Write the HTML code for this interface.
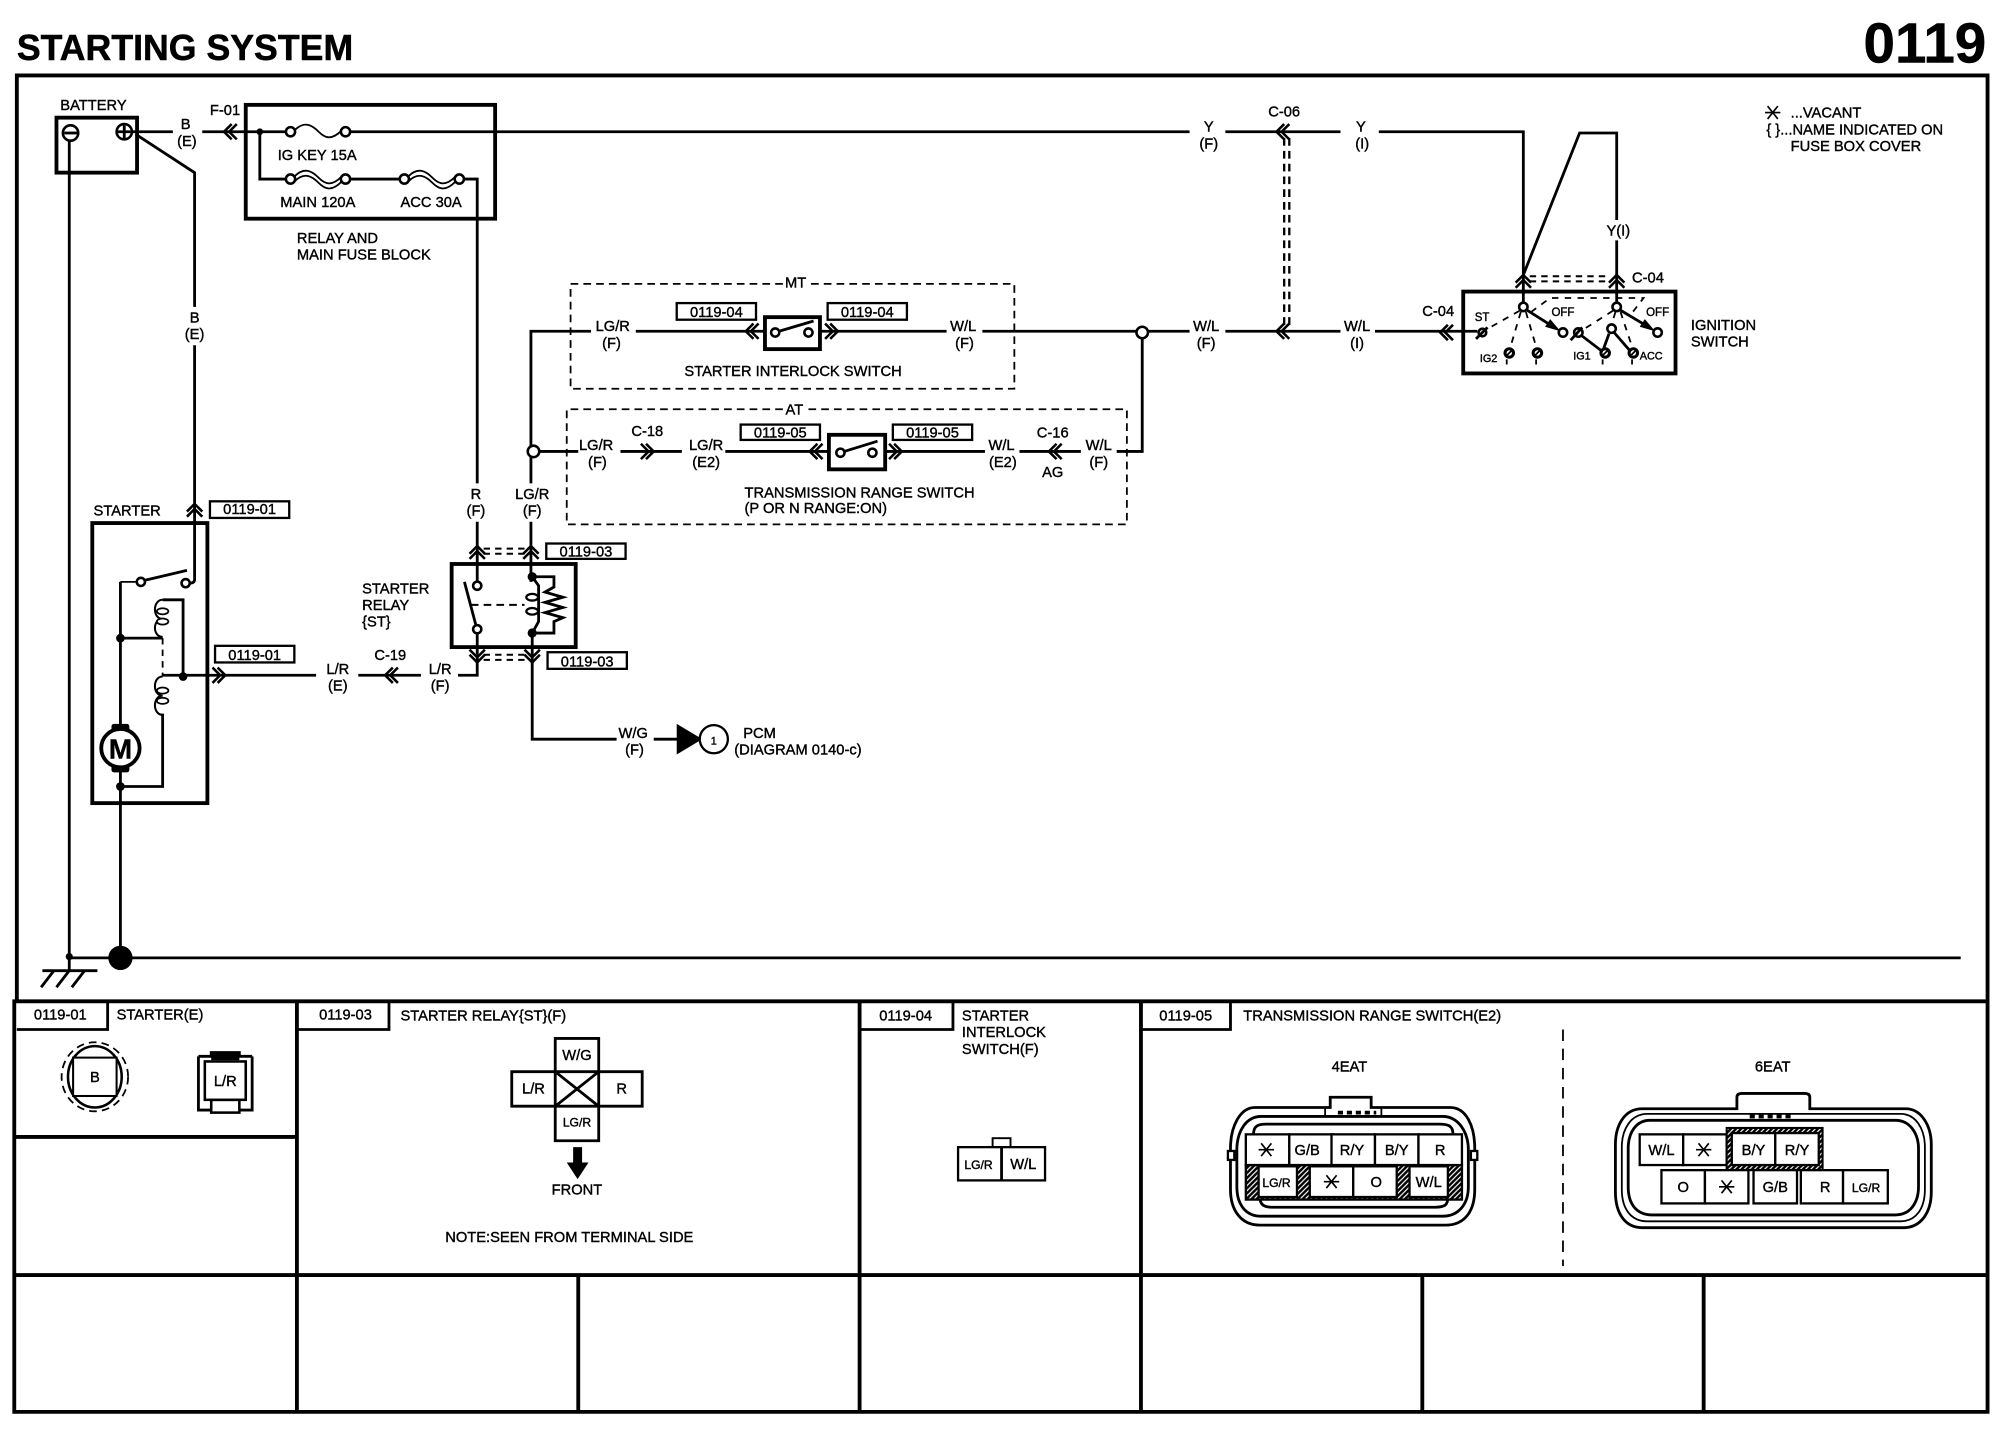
<!DOCTYPE html>
<html><head><meta charset="utf-8"><title>Starting System 0119</title>
<style>
html,body{margin:0;padding:0;background:#fff}
svg{display:block}
text{font-family:"Liberation Sans",Arial,sans-serif;font-size:11.5px;fill:#000;stroke:#000;stroke-width:.3}
.m text{text-anchor:middle}
.s{font-size:8.5px}
.w{fill:none;stroke:#000;stroke-width:2.2}
.th{fill:none;stroke:#000;stroke-width:3}
.tn{fill:none;stroke:#000;stroke-width:1.4}
.d{fill:none;stroke:#000;stroke-width:1.4;stroke-dasharray:6 4}
.dw{fill:none;stroke:#000;stroke-width:1.6;stroke-dasharray:5 4}
.c{fill:#fff;stroke:#000;stroke-width:2}
.b{fill:#fff;stroke:#000;stroke-width:1.8}
.cell{fill:#fff;stroke:#000;stroke-width:1.8}
</style></head><body>
<svg xmlns="http://www.w3.org/2000/svg" width="1998" height="1440" viewBox="0 0 1562 1126">
<defs>
<path id="cl" d="M3,-6 L-3,0 L3,6 M7,-6 L1,0 L7,6" fill="none" stroke="#000" stroke-width="2"/>
<path id="star" d="M-6,0H6 M-4,-5L4,5 M4,-5L-4,5" fill="none" stroke="#000" stroke-width="1.3"/>
<pattern id="h" width="4" height="4" patternUnits="userSpaceOnUse"><rect width="4" height="4" fill="#000"/><path d="M-1,3L3,-1M1,5L5,1" stroke="#fff" stroke-width=".9"/></pattern>
</defs>
<rect width="1562" height="1126" fill="#fff"/>

<text x="13" y="47" style="font-size:28px;font-weight:bold;stroke-width:.4" textLength="263" lengthAdjust="spacingAndGlyphs">STARTING SYSTEM</text>
<text x="1457" y="49" style="font-size:44px;font-weight:bold;stroke-width:.4" textLength="96" lengthAdjust="spacingAndGlyphs">0119</text>

<!-- frame -->
<path class="th" d="M13,783V59H1554V1104H11V783H1554"/>
<path class="th" d="M11,889H232M232,783V1104M672,783V1104M892,783V1104M11,997H1554M452,997V1104M1112,997V1104M1332,997V1104"/>

<!-- legend -->
<use href="#star" transform="translate(1386,88)"/>
<text x="1400" y="92">...VACANT</text>
<text x="1381" y="105">{ }...NAME INDICATED ON</text>
<text x="1400" y="118">FUSE BOX COVER</text>

<!-- battery -->
<text x="47" y="86">BATTERY</text>
<rect x="44" y="92" width="63" height="43" class="th" fill="none"/>
<circle cx="55" cy="104" r="6" class="c"/><path class="w" d="M50,104H60"/>
<circle cx="97" cy="103" r="6" class="c"/><path class="w" d="M92,103H102M97,98V108"/>
<path class="w" d="M54,110V748"/>
<path class="w" d="M103,103H135M106,105L152,135V240M152,270V453Q152,456 148,456"/>
<g class="m"><text x="145" y="101">B</text><text x="146" y="114">(E)</text><text x="152" y="252">B</text><text x="152" y="265">(E)</text></g>
<text x="164" y="90">F-01</text>
<path class="w" d="M158,103H192"/><use href="#cl" x="178" y="103"/>

<!-- fuse block -->
<rect x="192" y="82" width="195" height="89" class="th" fill="none"/>
<circle cx="203" cy="103" r="2.6"/>
<path class="w" d="M192,103H224M273,103H930M203,103V140H224M273,140H312M362,140H373V378M373,408V455"/>
<circle cx="227" cy="103" r="3.6" class="c"/><circle cx="270" cy="103" r="3.6" class="c"/>
<path class="tn" d="M230,102C238,94 244,98 249,103S259,110 267,102"/>
<circle cx="227" cy="140" r="3.6" class="c"/><circle cx="270" cy="140" r="3.6" class="c"/>
<path class="tn" d="M230,138C238,130 244,134 249,139S259,146 267,138M230,142C238,134 244,138 249,143S259,150 267,142"/>
<circle cx="316" cy="140" r="3.6" class="c"/><circle cx="359" cy="140" r="3.6" class="c"/>
<path class="tn" d="M319,138C327,130 333,134 338,139S348,146 356,138M319,142C327,134 333,138 338,143S348,150 356,142"/>
<text x="217" y="125">IG KEY 15A</text>
<text x="219" y="162">MAIN 120A</text>
<text x="313" y="162">ACC 30A</text>
<text x="232" y="190">RELAY AND</text>
<text x="232" y="203">MAIN FUSE BLOCK</text>

<!-- top wires -->
<g class="m"><text x="945" y="103">Y</text><text x="945" y="116">(F)</text>
<text x="1064" y="103">Y</text><text x="1065" y="116">(I)</text>
<text x="1004" y="91">C-06</text></g>
<path class="w" d="M958,103H1048M1078,103H1191V238M1191,215L1235,104H1264V172M1264,188V240"/>
<use href="#cl" x="1001" y="103"/>
<use href="#cl" x="1001" y="259"/>
<path class="dw" d="M1004,108V254M1008,108V254" style="stroke-width:1.8;stroke-dasharray:6 4"/>
<text x="1256" y="184">Y(I)</text>

<!-- MT -->
<path class="d" d="M612,222H446V304H793V222H634"/>
<text x="622" y="225" text-anchor="middle">MT</text>
<path class="w" d="M415,353V259H462M497,259H598M641,259H740M768,259H930M958,259H1048M1075,259H1155"/>
<g class="m"><text x="479" y="259">LG/R</text><text x="478" y="272">(F)</text>
<text x="753" y="259">W/L</text><text x="754" y="272">(F)</text>
<text x="943" y="259">W/L</text><text x="943" y="272">(F)</text>
<text x="1061" y="259">W/L</text><text x="1061" y="272">(I)</text></g>
<rect x="529" y="237" width="62" height="13" class="b"/><text x="560" y="248" text-anchor="middle">0119-04</text>
<rect x="647" y="237" width="62" height="13" class="b"/><text x="678" y="248" text-anchor="middle">0119-04</text>
<use href="#cl" x="586" y="259"/><use href="#cl" transform="translate(652,259) rotate(180)"/>
<rect x="598" y="248" width="43" height="25" fill="#fff" stroke="#000" stroke-width="3"/>
<circle cx="606" cy="260" r="3.2" class="c"/><circle cx="632" cy="260" r="3.2" class="c"/><path class="w" d="M609,259L636,251"/>
<text x="535" y="294">STARTER INTERLOCK SWITCH</text>
<circle cx="893" cy="260" r="4.5" class="c"/>
<path class="w" d="M893,264V353H873"/>

<!-- AT -->
<path class="d" d="M612,320H443V410H881V320H630"/>
<text x="621" y="324" text-anchor="middle">AT</text>
<circle cx="417" cy="353" r="4.5" class="c"/>
<path class="w" d="M421,353H452M485,353H533M567,353H648M692,353H770M797,353H845"/>
<path class="w" d="M415,357V378M415,408V455"/>
<use href="#cl" transform="translate(508,353) rotate(180)"/>
<use href="#cl" x="823" y="353"/>
<use href="#cl" x="636" y="353"/><use href="#cl" transform="translate(702,353) rotate(180)"/>
<g class="m"><text x="466" y="352">LG/R</text><text x="467" y="365">(F)</text>
<text x="552" y="352">LG/R</text><text x="552" y="365">(E2)</text>
<text x="783" y="352">W/L</text><text x="784" y="365">(E2)</text>
<text x="859" y="352">W/L</text><text x="859" y="365">(F)</text>
<text x="506" y="341">C-18</text><text x="823" y="342">C-16</text><text x="823" y="373">AG</text></g>
<rect x="579" y="332" width="62" height="12" class="b"/><text x="610" y="342" text-anchor="middle">0119-05</text>
<rect x="698" y="332" width="62" height="12" class="b"/><text x="729" y="342" text-anchor="middle">0119-05</text>
<rect x="648" y="340" width="44" height="27" fill="#fff" stroke="#000" stroke-width="3"/>
<circle cx="657" cy="354" r="3.2" class="c"/><circle cx="682" cy="354" r="3.2" class="c"/><path class="w" d="M660,353L686,345"/>
<text x="582" y="389">TRANSMISSION RANGE SWITCH</text>
<text x="582" y="401">(P OR N RANGE:ON)</text>

<!-- ignition -->
<rect x="1144" y="228" width="166" height="64" class="th" fill="none"/>
<use href="#cl" transform="translate(1191,218) rotate(90)"/>
<use href="#cl" transform="translate(1264,218) rotate(90)"/>
<path class="dw" d="M1196,216H1258M1196,220H1258"/>
<text x="1276" y="221">C-04</text>
<text x="1112" y="247">C-04</text>
<use href="#cl" x="1129" y="260"/>
<text class="s" x="1153" y="251" style="font-size:9px">ST</text>
<path class="d" d="M1188,243L1165,256M1189,244L1181,271M1193,244L1201,271M1197,244L1212,233H1285L1275,246M1261,243L1239,257M1263,244L1260,254M1267,244L1276,271" style="stroke-dasharray:5 5"/>
<path class="d" d="M1178,281V287M1201,281V287M1253,281V287M1276,281V287" style="stroke-dasharray:4 3"/>
<circle cx="1159" cy="260" r="3" class="c"/><path class="w" d="M1154,265L1163,256"/>
<circle cx="1191" cy="240" r="3.3" class="c"/><circle cx="1264" cy="240" r="3.3" class="c"/>
<path class="w" d="M1193,242L1212,254"/><path d="M1220,259L1208,255.500L1212,249.500Z"/>
<path class="w" d="M1266,242L1286,254"/><path d="M1294,259L1282,255.500L1286,249.500Z"/>
<circle cx="1222" cy="260" r="3.3" class="c"/><circle cx="1296" cy="260" r="3.3" class="c"/>
<circle cx="1234" cy="260" r="3.3" class="c"/><path class="w" d="M1236,262L1253,275"/><path class="w" d="M1228,266L1237,256"/>
<circle cx="1260" cy="257" r="3.3" class="c"/><path class="w" d="M1262,260L1275,275"/>
<path class="w" d="M1258,261L1254,272"/>
<circle cx="1255" cy="276" r="3.300" class="c" style="stroke-width:2.4"/><circle cx="1277" cy="276" r="3.3" class="c" style="stroke-width:2.4"/>
<circle cx="1180" cy="276" r="3.3" class="c" style="stroke-width:2.4"/><circle cx="1202" cy="276" r="3.3" class="c" style="stroke-width:2.4"/>
<path class="tn" d="M1178,278L1182,274M1200,278L1204,274M1253,278L1257,274M1275,278L1279,274"/>
<text class="s" x="1213" y="247" style="font-size:9px">OFF</text><text class="s" x="1287" y="247" style="font-size:9px">OFF</text>
<text class="s" x="1157" y="283">IG2</text><text class="s" x="1230" y="281">IG1</text><text class="s" x="1282" y="281">ACC</text>
<text x="1322" y="258">IGNITION</text><text x="1322" y="271">SWITCH</text>

<!-- starter -->
<text x="73" y="403">STARTER</text>
<use href="#cl" transform="translate(152,397) rotate(90)"/>
<rect x="164" y="392" width="62" height="13" class="b"/><text x="195" y="402" text-anchor="middle">0119-01</text>
<rect x="72" y="409" width="90" height="219" class="th" fill="none"/>
<path class="tn" d="M94,455H107"/>
<circle cx="110" cy="455" r="3.2" class="c"/><circle cx="145" cy="456" r="3.2" class="c"/>
<path class="w" d="M112,454L146,446"/>
<path class="w" d="M94,455V570M94,499H127M127,469H143V529M94,600V748M127,558V615H94"/>
<path class="w" style="stroke-width:1.6" d="M127,469C119,469 119,484 127,484C119,484 119,498 127,498"/>
<path class="w" style="stroke-width:1.6" d="M127,529C119,529 119,544 127,544C119,544 119,559 127,559"/>
<ellipse cx="127" cy="478" rx="4.5" ry="2.4" class="tn" fill="#fff" style="fill:#fff"/><ellipse cx="127" cy="486" rx="4.5" ry="2.4" class="tn" style="fill:#fff"/>
<ellipse cx="127" cy="540" rx="4.5" ry="2.4" class="tn" style="fill:#fff"/><ellipse cx="127" cy="548" rx="4.5" ry="2.4" class="tn" style="fill:#fff"/>
<path class="tn" d="M127,499V529" stroke-dasharray="5 4"/>
<circle cx="94" cy="499" r="3.4"/><circle cx="143" cy="529" r="3.4"/><circle cx="94" cy="615" r="3.4"/>
<rect x="87" y="566" width="14" height="6" rx="2"/><rect x="87" y="598" width="14" height="6" rx="2"/>
<circle cx="94" cy="585" r="15" fill="#fff" stroke="#000" stroke-width="3"/>
<text x="94" y="593" text-anchor="middle" style="font-size:22px;font-weight:bold">M</text>
<path class="w" d="M127,528H247M280,528H329M358,528H373V512"/>
<use href="#cl" transform="translate(173,528) rotate(180)"/>
<use href="#cl" x="304" y="528"/>
<rect x="168" y="505" width="62" height="13" class="b"/><text x="199" y="516" text-anchor="middle">0119-01</text>
<g class="m"><text x="264" y="527">L/R</text><text x="264" y="540">(E)</text><text x="305" y="516">C-19</text>
<text x="344" y="527">L/R</text><text x="344" y="540">(F)</text>
<text x="372" y="390">R</text><text x="372" y="403">(F)</text><text x="416" y="390">LG/R</text><text x="416" y="403">(F)</text></g>

<!-- relay -->
<text x="283" y="464">STARTER</text><text x="283" y="477">RELAY</text><text x="283" y="490">{ST}</text>
<rect x="353" y="441" width="97" height="65" class="th" fill="none"/>
<use href="#cl" transform="translate(373,430) rotate(90)"/>
<use href="#cl" transform="translate(415,430) rotate(90)"/>
<path class="dw" d="M378,429H411M378,433H411"/>
<rect x="427" y="425" width="62" height="12" class="b"/><text x="458" y="435" text-anchor="middle">0119-03</text>
<use href="#cl" transform="translate(373,515) rotate(-90)"/>
<use href="#cl" transform="translate(416,515) rotate(-90)"/>
<path class="dw" d="M378,512H411M378,516H411"/>
<rect x="428" y="510" width="62" height="13" class="b"/><text x="459" y="521" text-anchor="middle">0119-03</text>
<circle cx="373" cy="458" r="3.2" class="c"/><circle cx="373" cy="492" r="3.2" class="c"/>
<path class="w" d="M372,489L363,455"/>
<path class="w" d="M373,495V512"/>
<path class="w" style="stroke-width:1.6;stroke-dasharray:6 4" d="M368,473H410"/>
<circle cx="416" cy="451" r="3.6"/><circle cx="416" cy="495" r="3.6"/>
<path class="w" d="M416,451L421,458V486L416,495"/>
<ellipse cx="416" cy="467" rx="4.6" ry="2.6" class="tn" style="fill:#fff;stroke-width:1.8"/><ellipse cx="416" cy="478" rx="4.6" ry="2.6" class="tn" style="fill:#fff;stroke-width:1.8"/>
<path class="w" d="M416,451H433V459L426,463L440,467L426,471L440,475L426,479L440,483L433,486V495H416"/>
<path class="w" d="M416,495V578H482M511,578H530"/>
<g class="m"><text x="495" y="577">W/G</text><text x="496" y="590">(F)</text></g>
<path d="M529,566V590L549,578Z"/>
<circle cx="558" cy="578" r="11" fill="#fff" stroke="#000" stroke-width="1.8"/>
<text x="558" y="582" text-anchor="middle" class="s">1</text>
<text x="581" y="577">PCM</text><text x="574" y="590">(DIAGRAM 0140-c)</text>

<!-- ground -->
<circle cx="54" cy="748" r="2.8"/><circle cx="94" cy="749" r="9.5"/>
<path class="w" d="M54,749H1533M54,748V759M33,759H76M42,759L32,772M54,759L44,772M66,759L56,772"/>

<!-- panel 1 -->
<path class="w" d="M13,805H84V783"/>
<text x="47" y="797" text-anchor="middle">0119-01</text>
<text x="91" y="797">STARTER(E)</text>
<ellipse cx="74" cy="842" rx="26" ry="27" class="d"/>
<ellipse cx="74" cy="842" rx="21" ry="24" fill="none" stroke="#000" stroke-width="2"/>
<rect x="57" y="827" width="34" height="30" fill="#fff" stroke="#000" stroke-width="1.6"/>
<text x="74" y="846" text-anchor="middle">B</text>
<path class="w" d="M155,826V868H197V826M155,826H165V823H187V826H197"/>
<rect x="165" y="823" width="22" height="6" fill="#000"/><rect x="165" y="860" width="22" height="10" fill="#fff" stroke="#000" stroke-width="2"/>
<rect x="160" y="830" width="32" height="30" fill="#fff" stroke="#000" stroke-width="2"/>
<text x="176" y="849" text-anchor="middle">L/R</text>

<!-- panel 2 -->
<path class="w" d="M232,805H304V783"/>
<text x="270" y="797" text-anchor="middle">0119-03</text>
<text x="313" y="798">STARTER RELAY{ST}(F)</text>
<path class="w" d="M434,838V812H468V838M400,838H502V865H400ZM434,865V892H468V865M434,838H468V865H434ZM434,838L468,865M468,838L434,865"/>
<g class="m"><text x="451" y="829">W/G</text><text x="417" y="855">L/R</text><text x="486" y="855">R</text><text class="s" x="451" y="881" style="font-size:9.5px">LG/R</text></g>
<path d="M448,897H455V909H460L451.500,922L443,909H448Z"/>
<text x="451" y="934" text-anchor="middle">FRONT</text>
<text x="445" y="971" text-anchor="middle">NOTE:SEEN FROM TERMINAL SIDE</text>

<!-- panel 3 -->
<path class="w" d="M672,805H745V783"/>
<text x="708" y="798" text-anchor="middle">0119-04</text>
<text x="752" y="798">STARTER</text><text x="752" y="811">INTERLOCK</text><text x="752" y="824">SWITCH(F)</text>
<rect x="776" y="890" width="14" height="7" fill="none" stroke="#000" stroke-width="1.5"/>
<rect x="749" y="897" width="68" height="26" class="cell"/><path class="w" d="M783,897V923"/>
<text x="765" y="914" text-anchor="middle" style="font-size:9.5px">LG/R</text><text x="800" y="914" text-anchor="middle">W/L</text>

<!-- panel 4 -->
<path class="w" d="M892,805H962V783"/>
<text x="927" y="798" text-anchor="middle">0119-05</text>
<text x="972" y="798">TRANSMISSION RANGE SWITCH(E2)</text>
<path class="tn" d="M1222,805V990" stroke-dasharray="9 6"/>
<text x="1055" y="838" text-anchor="middle">4EAT</text><text x="1386" y="838" text-anchor="middle">6EAT</text>

<!-- 4EAT -->
<path class="w" d="M981,866H1040V858H1072V866H1134C1146,866 1153,880 1153,898V930C1153,946 1146,958 1130,958H985C970,958 962,946 962,930V898C962,880 970,866 981,866Z"/>
<path class="w" d="M986,873H1128C1140,873 1148,885 1148,899V928C1148,942 1140,951 1128,951H986C974,951 967,942 967,928V899C967,885 974,873 986,873Z"/>
<path class="tn" d="M1036,873V866M1080,873V866"/>
<path class="th" d="M1046,870H1076" style="stroke-dasharray:4 3"/>
<path class="w" d="M980,887C980,880 984,879 990,879H1125C1132,879 1136,880 1136,887M985,936C985,942 988,944 995,944H1122C1130,944 1132,942 1132,936"/>
<rect x="960" y="900" width="5" height="7" class="b"/><rect x="1150" y="900" width="5" height="7" class="b"/>
<rect x="974" y="911" width="169" height="27" fill="url(#h)" stroke="#000" stroke-width="1.8"/>
<rect x="974" y="887" width="34" height="24" class="cell"/><rect x="1008" y="887" width="34" height="24" class="cell"/><rect x="1041" y="887" width="34" height="24" class="cell"/><rect x="1075" y="887" width="34" height="24" class="cell"/><rect x="1109" y="887" width="34" height="24" class="cell"/>
<rect x="984" y="912" width="30" height="24" class="cell"/><rect x="1024" y="912" width="34" height="24" class="cell"/><rect x="1058" y="912" width="34" height="24" class="cell"/><rect x="1102" y="912" width="30" height="24" class="cell"/>
<use href="#star" transform="translate(990,899)"/>
<g class="m"><text x="1022" y="903">G/B</text><text x="1057" y="903">R/Y</text><text x="1092" y="903">B/Y</text><text x="1126" y="903">R</text>
<text x="998" y="928" style="font-size:9.500px">LG/R</text><text x="1076" y="928">O</text><text x="1117" y="928">W/L</text></g>
<use href="#star" transform="translate(1041,924)"/>

<!-- 6EAT -->
<path class="w" d="M1284,867H1358V858Q1358,855 1362,855H1411Q1415,855 1415,858V867H1490C1502,867 1510,880 1510,895V932C1510,948 1502,960 1488,960H1284C1270,960 1263,948 1263,932V895C1263,880 1270,867 1284,867Z"/>
<path class="tn" d="M1288,871H1486C1498,871 1505,883 1505,897V930C1505,945 1498,955 1486,955H1288C1275,955 1268,945 1268,930V897C1268,883 1275,871 1288,871Z"/>
<path class="w" d="M1290,876H1482C1493,876 1500,886 1500,898V928C1500,941 1493,950 1482,950H1292C1279,950 1273,941 1273,928V898C1273,886 1279,876 1290,876Z"/>
<path class="th" d="M1368,873H1402" style="stroke-dasharray:4 3"/>
<rect x="1282" y="887" width="34" height="24" class="cell"/><rect x="1316" y="887" width="34" height="24" class="cell"/>
<rect x="1350" y="882" width="75" height="33" fill="url(#h)" stroke="#000" stroke-width="1.6"/>
<rect x="1354" y="886" width="34" height="25" class="cell"/><rect x="1388" y="886" width="34" height="25" class="cell"/>
<rect x="1299" y="915" width="34" height="26" class="cell"/><rect x="1333" y="915" width="34" height="26" class="cell"/><rect x="1371" y="915" width="34" height="26" class="cell"/><rect x="1408" y="915" width="33" height="26" class="cell"/><rect x="1441" y="915" width="35" height="26" class="cell"/>
<g class="m"><text x="1299" y="903">W/L</text><text x="1371" y="903">B/Y</text><text x="1405" y="903">R/Y</text>
<text x="1316" y="932">O</text><text x="1388" y="932">G/B</text><text x="1427" y="932">R</text><text x="1459" y="932" style="font-size:9.5px">LG/R</text></g>
<use href="#star" transform="translate(1332,899)"/>
<use href="#star" transform="translate(1350,928)"/>
</svg>
</body></html>
